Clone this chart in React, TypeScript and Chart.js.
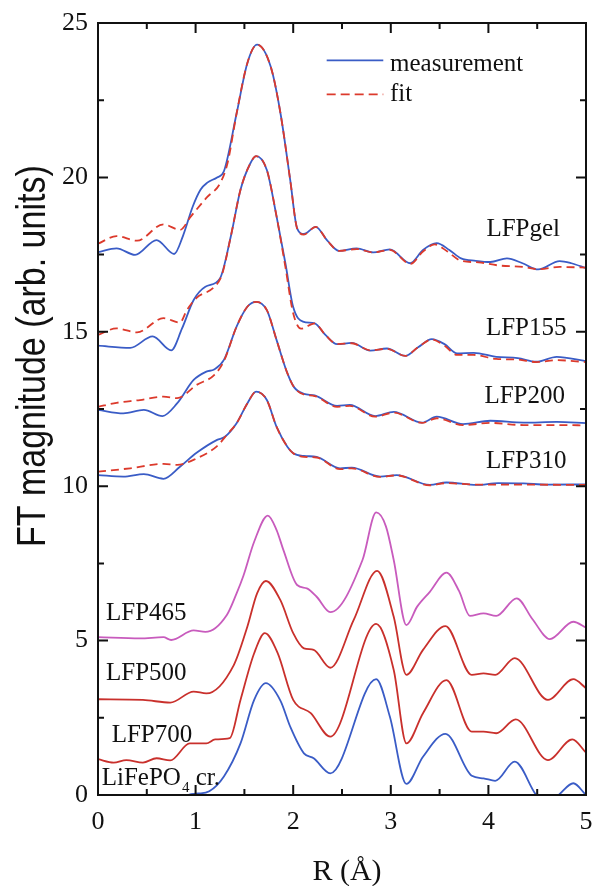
import { useEffect, useRef } from "react";
import { Chart, registerables } from "chart.js";

Chart.register(...registerables);

type Pt = [number, number];

// Fourier-transform magnitudes, [R (Å), |FT| (arb. units, vertically offset)]
const gelMeasurement: Pt[] = [
  [0, 17.58], [0.19, 17.7], [0.38, 17.49], [0.6, 17.97], [0.78, 17.52], [0.87, 18.1], [0.97, 19.05],
  [1.05, 19.6], [1.12, 19.83], [1.22, 20.0], [1.29, 20.2], [1.42, 22.07], [1.53, 23.7], [1.63, 24.3],
  [1.77, 23.58], [1.87, 22.07], [1.97, 19.9], [2.04, 18.35], [2.11, 18.17], [2.23, 18.4], [2.35, 17.95],
  [2.47, 17.62], [2.65, 17.7], [2.82, 17.57], [2.99, 17.67], [3.2, 17.22], [3.33, 17.65], [3.47, 17.87],
  [3.6, 17.65], [3.72, 17.38], [3.87, 17.3], [4.02, 17.26], [4.19, 17.38], [4.35, 17.22], [4.51, 17.02],
  [4.73, 17.29], [4.85, 17.22], [5.0, 17.06],
];
const gelFit: Pt[] = [
  [0, 17.85], [0.19, 18.1], [0.4, 17.95], [0.67, 18.48], [0.84, 18.3], [0.95, 18.73], [1.12, 19.37],
  [1.25, 19.8], [1.33, 20.5], [1.42, 22.07], [1.53, 23.7], [1.63, 24.3], [1.77, 23.58], [1.87, 22.07],
  [1.97, 19.9], [2.04, 18.35], [2.11, 18.15], [2.23, 18.4], [2.35, 17.95], [2.47, 17.62], [2.65, 17.68],
  [2.82, 17.57], [2.99, 17.65], [3.2, 17.2], [3.33, 17.6], [3.45, 17.83], [3.58, 17.6], [3.72, 17.3],
  [3.9, 17.25], [4.1, 17.15], [4.35, 17.1], [4.51, 17.03], [4.73, 17.1], [5.0, 17.08],
];
const lfp155Measurement: Pt[] = [
  [0, 14.55], [0.33, 14.48], [0.56, 14.85], [0.75, 14.4], [0.86, 15.1], [0.98, 16.03], [1.1, 16.46],
  [1.25, 16.73], [1.36, 18.08], [1.46, 19.6], [1.56, 20.45], [1.62, 20.69], [1.73, 20.24], [1.83, 18.73],
  [1.92, 17.22], [2.0, 15.8], [2.1, 15.33], [2.22, 15.27], [2.33, 14.9], [2.45, 14.6], [2.6, 14.64],
  [2.79, 14.39], [2.96, 14.46], [3.15, 14.22], [3.28, 14.5], [3.42, 14.76], [3.55, 14.6], [3.68, 14.3],
  [3.85, 14.32], [4.08, 14.19], [4.3, 14.15], [4.49, 14.03], [4.7, 14.19], [5.0, 14.05],
];
const lfp155Fit: Pt[] = [
  [0, 14.9], [0.19, 15.11], [0.4, 14.98], [0.67, 15.44], [0.84, 15.3], [0.91, 15.7], [1.01, 16.1],
  [1.19, 16.45], [1.27, 16.85], [1.36, 18.08], [1.46, 19.6], [1.56, 20.45], [1.62, 20.69], [1.73, 20.24],
  [1.83, 18.73], [1.92, 17.1], [2.0, 15.6], [2.08, 15.1], [2.22, 15.27], [2.33, 14.9], [2.45, 14.6],
  [2.6, 14.63], [2.79, 14.4], [2.96, 14.45], [3.15, 14.22], [3.28, 14.5], [3.42, 14.75], [3.55, 14.55],
  [3.68, 14.25], [3.85, 14.25], [4.08, 14.12], [4.3, 14.1], [4.49, 14.02], [4.7, 14.08], [5.0, 14.02],
];
const lfp200Measurement: Pt[] = [
  [0, 12.47], [0.26, 12.36], [0.47, 12.47], [0.66, 12.27], [0.81, 12.68], [0.98, 13.44], [1.11, 13.71],
  [1.19, 13.78], [1.29, 14.09], [1.42, 15.17], [1.53, 15.81], [1.62, 15.97], [1.73, 15.7], [1.83, 14.73],
  [1.94, 13.66], [2.01, 13.2], [2.11, 12.99], [2.22, 12.94], [2.45, 12.6], [2.58, 12.63], [2.84, 12.27],
  [3.03, 12.41], [3.32, 12.06], [3.47, 12.25], [3.74, 12.01], [4.02, 12.12], [4.36, 12.06], [4.7, 12.08],
  [5.0, 12.04],
];
const lfp200Fit: Pt[] = [
  [0, 12.57], [0.19, 12.7], [0.43, 12.79], [0.67, 12.9], [0.81, 12.85], [1.01, 13.28], [1.19, 13.6],
  [1.29, 14.05], [1.42, 15.17], [1.53, 15.81], [1.62, 15.97], [1.73, 15.7], [1.83, 14.73], [1.94, 13.66],
  [2.01, 13.2], [2.11, 12.97], [2.22, 12.92], [2.45, 12.57], [2.58, 12.6], [2.84, 12.25], [3.03, 12.38],
  [3.32, 12.05], [3.47, 12.2], [3.74, 11.98], [4.02, 12.05], [4.36, 11.98], [4.7, 11.98], [5.0, 11.97],
];
const lfp310Measurement: Pt[] = [
  [0, 10.36], [0.26, 10.31], [0.47, 10.39], [0.67, 10.24], [0.84, 10.63], [1.01, 11.08], [1.22, 11.5],
  [1.3, 11.6], [1.42, 12.04], [1.53, 12.68], [1.62, 13.06], [1.73, 12.79], [1.83, 11.92], [1.94, 11.28],
  [2.0, 11.07], [2.11, 10.98], [2.24, 10.95], [2.48, 10.58], [2.6, 10.6], [2.89, 10.31], [3.06, 10.36],
  [3.4, 10.04], [3.57, 10.12], [3.88, 10.04], [4.1, 10.1], [4.36, 10.09], [4.6, 10.05], [5.0, 10.06],
];
const lfp310Fit: Pt[] = [
  [0, 10.47], [0.33, 10.58], [0.67, 10.72], [0.81, 10.69], [1.01, 10.9], [1.22, 11.3], [1.33, 11.7],
  [1.42, 12.04], [1.53, 12.68], [1.62, 13.06], [1.73, 12.79], [1.83, 11.92], [1.94, 11.28], [2.0, 11.07],
  [2.11, 10.95], [2.24, 10.93], [2.48, 10.55], [2.6, 10.58], [2.89, 10.3], [3.06, 10.35], [3.4, 10.03],
  [3.57, 10.1], [3.88, 10.05], [4.36, 10.05], [5.0, 10.04],
];
const lfp465: Pt[] = [
  [0, 5.11], [0.43, 5.07], [0.67, 5.11], [0.75, 5.02], [0.98, 5.33], [1.1, 5.28], [1.32, 5.83],
  [1.42, 6.53], [1.49, 7.1], [1.6, 8.2], [1.74, 9.05], [1.83, 8.58], [1.9, 7.93], [2.04, 6.8],
  [2.14, 6.69], [2.24, 6.42], [2.38, 5.92], [2.71, 7.61], [2.85, 9.15], [2.95, 8.7], [3.03, 7.61],
  [3.16, 5.5], [3.27, 6.1], [3.4, 6.58], [3.57, 7.2], [3.7, 6.6], [3.81, 5.8], [3.95, 5.88], [4.08, 5.8],
  [4.29, 6.37], [4.45, 5.7], [4.63, 5.05], [4.87, 5.61], [5.0, 5.42],
];
const lfp500: Pt[] = [
  [0, 3.1], [0.46, 3.08], [0.74, 2.99], [0.98, 3.35], [1.11, 3.29], [1.39, 4.2], [1.53, 5.45],
  [1.63, 6.53], [1.72, 6.93], [1.87, 6.3], [2.0, 5.24], [2.11, 4.75], [2.21, 4.7], [2.38, 4.12],
  [2.62, 5.67], [2.86, 7.26], [3.03, 5.77], [3.16, 3.89], [3.33, 4.7], [3.56, 5.47], [3.83, 3.89],
  [3.95, 3.94], [4.07, 3.89], [4.27, 4.43], [4.61, 3.08], [4.87, 3.75], [5.0, 3.46],
];
const lfp700: Pt[] = [
  [0, 1.16], [0.16, 1.05], [0.29, 1.13], [0.46, 1.05], [0.6, 1.19], [0.74, 1.12], [0.94, 1.67],
  [1.11, 1.67], [1.2, 1.8], [1.35, 1.84], [1.46, 3.08], [1.6, 4.59], [1.71, 5.24], [1.84, 4.6],
  [2.0, 3.08], [2.18, 2.65], [2.38, 1.89], [2.85, 5.54], [3.03, 4.05], [3.16, 1.67], [3.33, 2.65],
  [3.57, 3.72], [3.83, 2.05], [3.95, 2.05], [4.08, 2.0], [4.28, 2.45], [4.61, 1.13], [4.86, 1.8],
  [5.0, 1.37],
];
const lifepo4Crystal: Pt[] = [
  [0.8, -0.5], [0.92, 0.0], [1.03, 0.05], [1.14, 0.12], [1.29, 0.6], [1.46, 1.67], [1.6, 3.08],
  [1.72, 3.62], [1.87, 3.05], [1.97, 2.21], [2.11, 1.35], [2.21, 1.19], [2.38, 0.7], [2.85, 3.75],
  [2.99, 2.54], [3.16, 0.36], [3.33, 1.24], [3.56, 1.98], [3.83, 0.62], [3.95, 0.54], [4.07, 0.46],
  [4.27, 1.08], [4.49, 0.0], [4.6, -0.3], [4.72, 0.0], [4.87, 0.38], [5.0, 0.0],
];

const xTickValues = [0, 1, 2, 3, 4, 5];
const yTickValues = [0, 5, 10, 15, 20, 25];
const legendNames = ["measurement", "fit"];
const sampleNames = ["LFPgel", "LFP155", "LFP200", "LFP310", "LFP465", "LFP500", "LFP700"];

const BLUE = "#3a5cc6";
const FIT_RED = "#dc3a2c";
const RED = "#c9302c";
const MAGENTA = "#c85bbd";
const SERIF = "'Liberation Serif', 'Times New Roman', serif";
const SANS = "'Liberation Sans', Arial, sans-serif";

// where each sample name sits, in data coordinates [R, value, align]
const namePlacement: [number, number, CanvasTextAlign][] = [
  [4.734, 18.09, "right"],
  [4.8, 14.9, "right"],
  [4.785, 12.69, "right"],
  [4.8, 10.59, "right"],
  [0.082, 5.67, "left"],
  [0.082, 3.71, "left"],
  [0.14, 1.73, "left"],
];

const series = (pts: Pt[], color: string, dashed: boolean, order: number) => ({
  data: pts.map(([x, y]) => ({ x, y })),
  borderColor: color,
  borderWidth: 1.8,
  borderDash: dashed ? [8, 5] : [],
  pointRadius: 0,
  fill: false,
  cubicInterpolationMode: "monotone" as const,
  order,
});

const framePlugin = {
  id: "frameAndText",
  afterDraw(chart: any) {
    const { ctx, chartArea: a, scales } = chart;
    const xs = scales.x;
    const ys = scales.y;
    const px = (v: number) => xs.getPixelForValue(v);
    const py = (v: number) => ys.getPixelForValue(v);
    ctx.save();

    // frame with inward ticks on all four sides
    ctx.strokeStyle = "#111";
    ctx.lineWidth = 2;
    ctx.strokeRect(a.left, a.top, a.right - a.left, a.bottom - a.top);
    ctx.beginPath();
    for (let i = 0; i <= 10; i++) {
      const v = i * 0.5;
      const len = i % 2 === 0 ? 10 : 6;
      const x = px(v);
      ctx.moveTo(x, a.bottom); ctx.lineTo(x, a.bottom - len);
      ctx.moveTo(x, a.top); ctx.lineTo(x, a.top + len);
    }
    for (let i = 0; i <= 10; i++) {
      const v = i * 2.5;
      const len = i % 2 === 0 ? 10 : 6;
      const y = py(v);
      ctx.moveTo(a.left, y); ctx.lineTo(a.left + len, y);
      ctx.moveTo(a.right, y); ctx.lineTo(a.right - len, y);
    }
    ctx.stroke();

    // legend
    ctx.lineWidth = 1.8;
    ctx.strokeStyle = BLUE;
    ctx.setLineDash([]);
    ctx.beginPath();
    ctx.moveTo(px(2.343), py(23.79)); ctx.lineTo(px(2.923), py(23.79));
    ctx.stroke();
    ctx.strokeStyle = FIT_RED;
    ctx.setLineDash([9, 5]);
    ctx.beginPath();
    ctx.moveTo(px(2.343), py(22.69)); ctx.lineTo(px(2.923), py(22.69));
    ctx.stroke();
    ctx.setLineDash([]);

    ctx.fillStyle = "#111";
    ctx.font = `25px ${SERIF}`;
    ctx.textBaseline = "alphabetic";
    ctx.textAlign = "left";
    ctx.fillText(legendNames[0], px(2.992), py(23.45));
    ctx.fillText(legendNames[1], px(2.992), py(22.47));

    // sample names
    sampleNames.forEach((name, i) => {
      const [r, v, align] = namePlacement[i];
      ctx.textAlign = align;
      ctx.fillText(name, px(r), py(v));
    });

    // crystalline reference label with subscript
    ctx.textAlign = "left";
    let x = px(0.038);
    const base = py(0.32);
    ctx.font = `25px ${SERIF}`;
    ctx.fillText("LiFePO", x, base);
    x += ctx.measureText("LiFePO").width + 1;
    ctx.font = `15px ${SERIF}`;
    ctx.fillText("4", x, base + 7);
    x += ctx.measureText("4").width;
    ctx.font = `25px ${SERIF}`;
    ctx.fillText(" cr.", x, base);

    // axis titles
    ctx.font = `30px ${SERIF}`;
    ctx.textAlign = "center";
    ctx.fillText("R (Å)", (a.left + a.right) / 2 + 5, 880);

    ctx.save();
    ctx.translate(45, 547);
    ctx.rotate(-Math.PI / 2);
    ctx.scale(1, 1.18);
    ctx.font = `34px ${SANS}`;
    ctx.textAlign = "left";
    ctx.fillText("FT magnitude (arb. units)", 0, 0);
    ctx.restore();

    ctx.restore();
  },
};

export default function App() {
  const ref = useRef<HTMLCanvasElement>(null);

  useEffect(() => {
    document.body.style.margin = "0";
    const canvas = ref.current;
    if (!canvas) return;
    const chart = new Chart(canvas, {
      type: "line",
      data: {
        datasets: [
          series(gelFit, FIT_RED, true, 0),
          series(gelMeasurement, BLUE, false, 1),
          series(lfp155Fit, FIT_RED, true, 0),
          series(lfp155Measurement, BLUE, false, 1),
          series(lfp200Fit, FIT_RED, true, 0),
          series(lfp200Measurement, BLUE, false, 1),
          series(lfp310Fit, FIT_RED, true, 0),
          series(lfp310Measurement, BLUE, false, 1),
          series(lfp465, MAGENTA, false, 1),
          series(lfp500, RED, false, 1),
          series(lfp700, RED, false, 1),
          series(lifepo4Crystal, BLUE, false, 1),
        ],
      },
      options: {
        responsive: false,
        animation: false,
        devicePixelRatio: 1,
        events: [],
        layout: { padding: { top: 23, right: 7, left: 0, bottom: 0 } },
        plugins: { legend: { display: false }, tooltip: { enabled: false } },
        scales: {
          x: {
            type: "linear",
            min: 0,
            max: 5,
            afterFit: (s: any) => {
              s.height = 91;
              s.paddingLeft = 0;
              s.paddingRight = 0;
            },
            afterBuildTicks: (s: any) => { s.ticks = xTickValues.map((value) => ({ value })); },
            grid: { display: false, drawTicks: false },
            border: { display: false },
            ticks: {
              font: { family: SERIF, size: 26 },
              color: "#111",
              padding: 12,
              maxRotation: 0,
              autoSkip: false,
            },
          },
          y: {
            type: "linear",
            min: 0,
            max: 25,
            afterFit: (s: any) => {
              s.width = 98;
              s.paddingTop = 0;
              s.paddingBottom = 0;
            },
            afterBuildTicks: (s: any) => { s.ticks = yTickValues.map((value) => ({ value })); },
            grid: { display: false, drawTicks: false },
            border: { display: false },
            ticks: {
              font: { family: SERIF, size: 26 },
              color: "#111",
              padding: 10,
              autoSkip: false,
            },
          },
        },
      },
      plugins: [framePlugin],
    } as any);
    return () => chart.destroy();
  }, []);

  return (
    <div style={{ width: 593, height: 886 }}>
      <canvas ref={ref} width={593} height={886} style={{ display: "block" }} />
    </div>
  );
}
